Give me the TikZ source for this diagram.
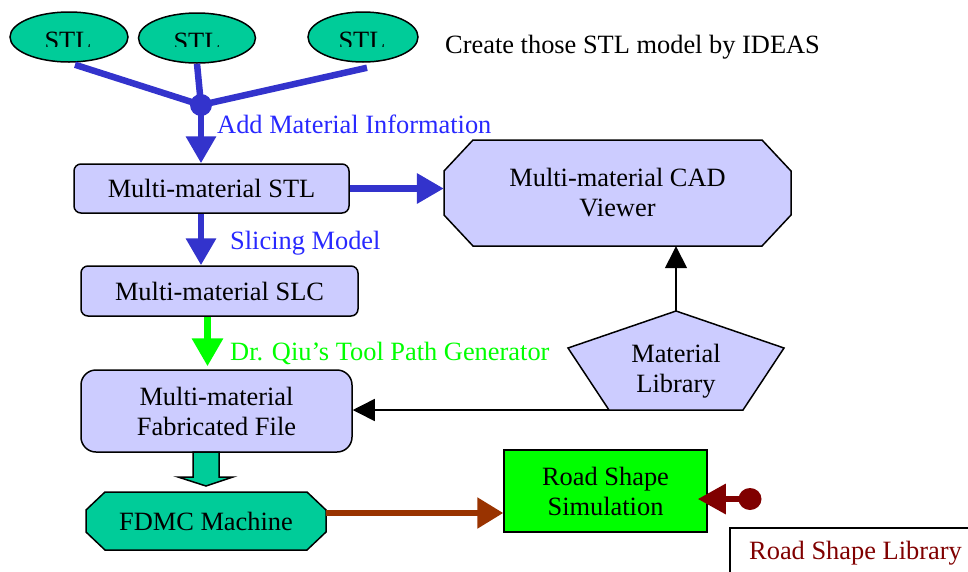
\documentclass[tikz,border=0pt]{standalone}
\usepackage{fontspec}
\setmainfont{Liberation Serif}
\usetikzlibrary{shapes.geometric,arrows.meta,calc}
\definecolor{lav}{RGB}{204,204,255}
\definecolor{tealc}{RGB}{0,204,153}
\definecolor{bline}{RGB}{51,51,204}
\definecolor{btext}{RGB}{40,40,255}
\definecolor{gline}{RGB}{0,255,0}
\definecolor{brownc}{RGB}{153,51,0}
\definecolor{maroonc}{RGB}{128,0,0}
\begin{document}
\begin{tikzpicture}[x=1pt,y=-1pt,
  font=\fontsize{26.4}{30}\selectfont,
  stlell/.style={ellipse, draw=black, line width=1.5pt, fill=tealc, minimum width=#1, minimum height=50pt, inner sep=0pt},
  lbox/.style={draw=black, line width=1.5pt, fill=lav, inner sep=0pt, align=center},
  plain/.style={inner sep=0pt, align=center},
  shapeline/.style={draw=black, line width=1.5pt},
  barrow/.style={draw=bline, line width=6.5pt, -{Triangle[length=27pt,width=29pt]}},
  garrow/.style={draw=gline, line width=6.5pt, -{Triangle[length=28pt,width=30pt]}},
  karrow/.style={draw=black, line width=1.5pt, -{Triangle[length=22pt,width=22pt]}},
  lbl/.style={inner sep=0pt, anchor=base west}
]
\useasboundingbox (0,0) rectangle (968,571);
\clip (0,0) rectangle (968,571);

% STL ellipses
\node[stlell=118pt] (e1) at (69,37) {};
\node[stlell=117pt] (e2) at (197,38) {};
\node[stlell=110pt] (e3) at (363,37) {};
\begin{scope}
  \clip (0,0) rectangle (968,46.5);
  \node[lbl, anchor=base] (t1) at (68,49) {STL};
  \node[lbl, anchor=base] (t2) at (197,50) {STL};
  \node[lbl, anchor=base] (t3) at (362,49) {STL};
\end{scope}
\node[lbl] (create) at (445,53) {Create those STL model by IDEAS};

% junction
\coordinate (J) at (201,105);
\draw[bline, line width=6.5pt] (e1.south) ++(6,2) -- (J);
\draw[bline, line width=6.5pt] (e2.south) -- (J);
\draw[bline, line width=6.5pt] (e3.south) ++(4,5) -- (J);
\fill[bline] (J) circle (11pt);

% boxes
\node[lbox, rounded corners=7pt, minimum width=275pt, minimum height=49pt] (stl) at (211.5,188.5) {Multi-material STL};
\node[lbox, rounded corners=7pt, minimum width=277pt, minimum height=50pt] (slc) at (219.5,291) {Multi-material SLC};
\node[lbox, rounded corners=15pt, minimum width=271pt, minimum height=82pt] (fab) at (216.5,411) {Multi-material\\Fabricated File};

% CAD viewer octagon
\draw[shapeline, fill=lav] (444,171) -- (473,140) -- (762,140) -- (791,171) -- (791,215) -- (762,246) -- (473,246) -- (444,215) -- cycle;
\node[plain, minimum width=347pt, minimum height=106pt] (cad) at (617.5,193) {Multi-material CAD\\Viewer};

% Material library pentagon
\draw[shapeline, fill=lav] (676,311) -- (784,348) -- (743,410) -- (609,410) -- (568,348) -- cycle;
\coordinate (mltop) at (676,311);
\coordinate (mlbl) at (609,410);
\node[plain] (matlib) at (676,371) {Material\\Library};

% FDMC octagon
\draw[shapeline, fill=tealc] (86,510) -- (105,492) -- (307,492) -- (326,510) -- (326,532) -- (307,550) -- (105,550) -- (86,532) -- cycle;
\node[plain, minimum width=240pt, minimum height=58pt] (fdmc) at (206,521) {FDMC Machine};

% Road shape simulation
\node[draw=black, line width=1.5pt, fill=gline, inner sep=0pt, align=center, minimum width=203pt, minimum height=82pt] (road) at (605.5,491) {Road Shape\\Simulation};

% Road shape library
\draw[line width=1.5pt] (730,528) rectangle (1000,620);
\node[lbl, text=maroonc] (rsl) at (749,559) {Road Shape Library};

% connectors
\draw[barrow] (J) -- (J |- stl.north);
\node[lbl, text=btext] (addlbl) at (217,133) {Add Material Information};
\draw[barrow] (stl.east) -- (stl.east -| cad.west);
\draw[barrow] (J |- stl.south) -- (J |- slc.north);
\node[lbl, text=btext] (slicelbl) at (230,249) {Slicing Model};
\coordinate (gstart) at ($(slc.south)+(-12,0)$);
\draw[garrow] (gstart) -- ($(gstart |- fab.north)+(0,-3)$);
\node[lbl, text=gline] (qiulbl) at (230,360) {Dr. Qiu’s Tool Path Generator};
\draw[karrow] (mltop) -- (mltop |- cad.south);
\draw[karrow] (mlbl) -- (mlbl -| fab.east);

% teal block arrow
\draw[shapeline, fill=tealc] (193,452) -- (219,452) -- (219,477) -- (233,477) -- (206,486) -- (178,477) -- (193,477) -- cycle;

% brown connector
\coordinate (fdout) at ($(fdmc.east)+(0,-8)$);
\draw[draw=brownc, line width=5.5pt, -{Triangle[length=26pt,width=30pt]}] (fdout) -- (fdout -| road.west);

% maroon connector
\coordinate (rsdot) at (750,499);
\fill[maroonc] (rsdot) ellipse (11.5pt and 11pt);
\draw[draw=maroonc, line width=6pt, -{Triangle[length=28pt,width=29pt]}] (rsdot) -- ($(rsdot -| road.east)+(-10,0)$);
\end{tikzpicture}
\end{document}
